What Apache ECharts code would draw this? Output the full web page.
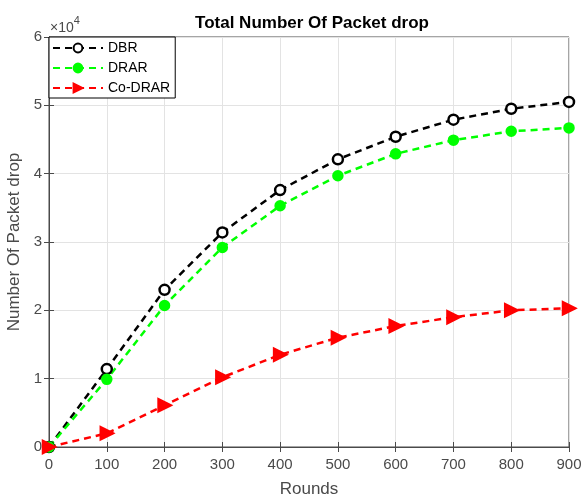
<!DOCTYPE html>
<html><head><meta charset="utf-8">
<script src="https://cdn.jsdelivr.net/npm/echarts@6/dist/echarts.min.js"></script>
<style>html,body{margin:0;padding:0;background:#fff}#c{width:582px;height:496px}</style>
</head><body><div id="c"></div>
<script>
const rounds = [0,100,200,300,400,500,600,700,800,900];
const dbr = [0,11400,23000,31400,37600,42100,45400,47900,49500,50500];
const drar = [0,9900,20700,29200,35300,39700,42900,44900,46200,46700];
const codrar = [0,2000,6100,10200,13500,16000,17700,19000,20000,20300];
const yTicks = [0,1,2,3,4,5,6];
const F = 'Liberation Sans, Arial, sans-serif';
const chart = echarts.init(document.getElementById('c'));
const axisCol = '#4a4a4a';
function mk(name, data, color, symbol, size, rot, fill){
  return {name, type:'line', data: rounds.map((r,i)=>[r,data[i]]), smooth:false,
    symbol, symbolSize:size, symbolRotate:rot, showAllSymbol:true,
    lineStyle:{color, width:2.5, type:[7,5]},
    itemStyle:{color: fill, borderColor:color, borderWidth:2.5},
    clip:false, z:3};
}
chart.setOption({
  animation:false,
  backgroundColor:'#fff',
  title:{text:'Total Number Of Packet drop', left:307, textAlign:'center', top:10,
    textStyle:{fontFamily:F, fontSize:17, fontWeight:'bold', color:'#000'}},
  grid:{left:49, right:13, top:37, bottom:49, show:true, borderColor:axisCol, borderWidth:1,
    containLabel:false, outerBoundsMode:'none'},
  legend:{left:49, top:37, orient:'vertical', itemWidth:50, itemHeight:11, itemGap:6,
    padding:[4,5,3,3], borderColor:'#000', borderWidth:1, backgroundColor:'#fff',
    textStyle:{fontFamily:F, fontSize:14, color:'#000'}, data:['DBR','DRAR','Co-DRAR']},
  graphic:[{type:'text', left:50, top:15, style:{text:'{a|×10}{b|4}', rich:{
    a:{fontFamily:F, fontSize:14, fill:axisCol, verticalAlign:'bottom', lineHeight:20},
    b:{fontFamily:F, fontSize:11, fill:axisCol, verticalAlign:'top', lineHeight:10}}}}],
  xAxis:[{type:'value', min:0, max:900, interval:100, name:'Rounds', nameLocation:'middle', nameGap:34,
    nameTextStyle:{fontFamily:F, fontSize:17, color:axisCol},
    axisLine:{lineStyle:{color:axisCol}}, axisTick:{inside:true, length:5, lineStyle:{color:axisCol}},
    axisLabel:{fontFamily:F, fontSize:15, color:axisCol, margin:10},
    splitLine:{show:true, lineStyle:{color:'#e3e3e3'}}},
    {type:'value', position:'top', min:0, max:900, interval:100, axisLine:{show:false},
    axisTick:{inside:true, length:5, lineStyle:{color:axisCol}}, axisLabel:{show:false}, splitLine:{show:false}}],
  yAxis:[{type:'value', min:0, max:60000, interval:10000, name:'Number Of Packet drop', nameLocation:'middle', nameGap:19,
    nameTextStyle:{fontFamily:F, fontSize:17, color:axisCol},
    axisLine:{show:true, lineStyle:{color:axisCol}}, axisTick:{show:true, inside:true, length:5, lineStyle:{color:axisCol}},
    axisLabel:{fontFamily:F, fontSize:15, color:axisCol, margin:7, formatter:v=>String(yTicks[Math.round(v/10000)])},
    splitLine:{show:true, lineStyle:{color:'#e3e3e3'}}},
    {type:'value', position:'right', min:0, max:60000, interval:10000, axisLine:{show:false},
    axisTick:{show:true, inside:true, length:5, lineStyle:{color:axisCol}}, axisLabel:{show:false}, splitLine:{show:false}}],
  series:[
    mk('DBR', dbr, '#000', 'circle', 10, 0, '#fff'),
    mk('DRAR', drar, '#00ff00', 'circle', 9, 0, '#00ff00'),
    mk('Co-DRAR', codrar, '#ff0000', 'triangle', 12, -90, '#ff0000')
  ]
});
</script></body></html>
